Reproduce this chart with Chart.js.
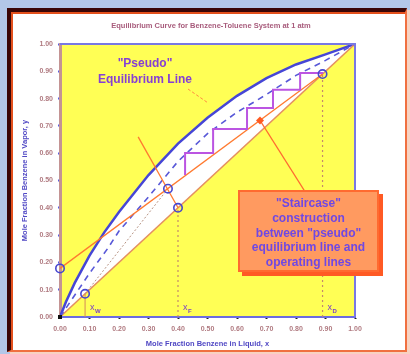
<!DOCTYPE html>
<html>
<head>
<meta charset="utf-8">
<script src="https://cdn.jsdelivr.net/npm/chart.js@4.4.1/dist/chart.umd.min.js"></script>
<style>
  html, body { margin: 0; padding: 0; }
  body { width: 410px; height: 354px; background: #b3c7e8; position: relative; overflow: hidden;
         font-family: "Liberation Sans", Arial, sans-serif; }
  .panel { position: absolute; left: 7px; top: 8px; width: 400px; height: 344px; box-sizing: border-box;
           background: #ffffff; border-left: 4px solid #3a0606; border-top: 4px solid #3a0606;
           border-right: 2px solid #f07040; border-bottom: 2px solid #f07040;
           box-shadow: inset 2px 2px 0 #e4501c, 3px 2px 0 #f8d2c2; }
  #chart { position: absolute; left: 0; top: 0; }
  .pseudo-label { position: absolute; left: 85px; top: 55px; width: 120px; text-align: center;
                  font: bold 12px "Liberation Sans", Arial, sans-serif; line-height: 16px; color: #8640d4; }
  .callout { position: absolute; left: 238px; top: 190px; width: 141px; height: 82px; box-sizing: border-box;
             background: #ff9a60; border: 2px solid #ff6a30; box-shadow: 4px 4px 0 #ff5a24;
             text-align: center; font: bold 12px "Liberation Sans", Arial, sans-serif; line-height: 14.8px;
             color: #6f48e4; padding-top: 4px; }
</style>
</head>
<body>
<div class="panel"></div>
<canvas id="chart" width="410" height="354"></canvas>
<div class="pseudo-label">"Pseudo"<br>Equilibrium Line</div>
<div class="callout">"Staircase"<br>construction<br>between "pseudo"<br>equilibrium line and<br>operating lines</div>
<script>
// Benzene-toluene equilibrium curve (liquid x, vapour y)
const eqX = [0, 0.02, 0.05, 0.10, 0.15, 0.20, 0.30, 0.40, 0.50, 0.60, 0.70, 0.80, 0.90, 1.00];
const eqY = [0, 0.055, 0.125, 0.225, 0.310, 0.385, 0.520, 0.635, 0.730, 0.810, 0.875, 0.925, 0.962, 1.00];

// "Pseudo" equilibrium line (dashed)
const pseudoX = [0, 0.10, 0.163, 0.20, 0.30, 0.40, 0.50, 0.60, 0.70, 0.80, 0.90, 1.00];
const pseudoY = [0, 0.160, 0.253, 0.315, 0.440, 0.570, 0.672, 0.750, 0.815, 0.885, 0.940, 1.00];

// Compositions: bottoms, feed, distillate
const xW = 0.085, xF = 0.40, xD = 0.89;

// 45-degree line
const diagX = [0, 1];
const diagY = [0, 1];

// Operating lines and q-line
const rectX = [0, 0.89];
const rectY = [0.178, 0.89];
const stripX = [0.085, 0.366];
const stripY = [0.085, 0.47];
const qX = [0.40, 0.265];
const qY = [0.40, 0.66];

// Staircase between pseudo-equilibrium and rectifying line
const stairX = [0.892, 0.814, 0.814, 0.722, 0.722, 0.634, 0.634, 0.519, 0.519, 0.424, 0.424];
const stairY = [0.894, 0.894, 0.832, 0.832, 0.766, 0.766, 0.689, 0.689, 0.601, 0.601, 0.520];

// Marked points: y-intercept, (xW,xW), (xF,xF), line intersection, (xD,xD)
const keyX = [0, 0.085, 0.40, 0.366, 0.89];
const keyY = [0.178, 0.085, 0.40, 0.47, 0.89];

// Annotation leader lines
const pseudoPtrX = [0.434, 0.502];
const pseudoPtrY = [0.835, 0.784];
const stairPtrX = [0.678, 0.83];
const stairPtrY = [0.72, 0.46];

// Axis ticks
const tickValues = [0, 0.1, 0.2, 0.3, 0.4, 0.5, 0.6, 0.7, 0.8, 0.9, 1.0];

const pts = (xs, ys) => xs.map((x, i) => ({ x: x, y: ys[i] }));
const FONT = '"Liberation Sans", Arial, sans-serif';

const line = (data, color, width, dash, extra) => Object.assign({
  type: 'line', data: data, borderColor: color, borderWidth: width,
  borderDash: dash || [], pointRadius: 0, fill: false, tension: 0
}, extra || {});

const plotDecor = {
  id: 'plotDecor',
  beforeDraw(chart) {
    const { ctx, chartArea: a, scales } = chart;
    const sx = v => scales.x.getPixelForValue(v);
    const sy = v => scales.y.getPixelForValue(v);
    ctx.save();
    ctx.fillStyle = '#ffff55';
    ctx.fillRect(a.left, a.top, a.right - a.left, a.bottom - a.top);
    // white band between the equilibrium curve and the 45-degree line
    ctx.beginPath();
    eqX.forEach((x, i) => (i ? ctx.lineTo(sx(x), sy(eqY[i])) : ctx.moveTo(sx(x), sy(eqY[i]))));
    for (let i = diagX.length - 1; i >= 0; i--) ctx.lineTo(sx(diagX[i]), sy(diagY[i]));
    ctx.closePath();
    ctx.fillStyle = '#ffffff';
    ctx.fill();
    ctx.restore();
  },
  afterDraw(chart) {
    const { ctx, chartArea: a, scales } = chart;
    ctx.save();
    // top and right frame of the plot
    ctx.strokeStyle = '#7878e4';
    ctx.lineWidth = 2;
    ctx.beginPath();
    ctx.moveTo(a.left, a.top);
    ctx.lineTo(a.right, a.top);
    ctx.lineTo(a.right, a.bottom);
    ctx.stroke();
    // chart title
    ctx.fillStyle = '#a85c7c';
    ctx.font = 'bold 7.5px ' + FONT;
    ctx.textAlign = 'center';
    ctx.textBaseline = 'middle';
    ctx.fillText('Equilibrium Curve for Benzene-Toluene System at 1 atm', 211, 26);
    // composition labels along the x axis
    const labels = [[xW, 'W'], [xF, 'F'], [xD, 'D']];
    ctx.fillStyle = '#7a40c8';
    ctx.textAlign = 'left';
    labels.forEach(([v, sub]) => {
      const px = scales.x.getPixelForValue(v) + 5;
      const py = a.bottom - 9;
      ctx.font = '9px ' + FONT;
      ctx.fillText('x', px, py);
      ctx.font = 'bold 6px ' + FONT;
      ctx.fillText(sub, px + 5, py + 3);
    });
    // origin marker
    ctx.fillStyle = '#111';
    ctx.fillRect(scales.x.getPixelForValue(0) - 2, scales.y.getPixelForValue(0) - 2, 4, 4);
    ctx.restore();
  }
};

new Chart(document.getElementById('chart'), {
  type: 'line',
  data: {
    datasets: [
      line(pts(eqX, eqY), '#4646d6', 2.5, null, { order: 10 }),
      line(pts(diagX, diagY), '#e49060', 1.5, null, { order: 9 }),
      line(pts(stripX, stripY), '#b89484', 1, [2, 2], { order: 8 }),
      line(pts(pseudoX, pseudoY), '#5858d8', 1.6, [6, 5], { order: 7 }),
      line(pts(rectX, rectY), '#ff7a30', 1.3, null, { order: 6 }),
      line(pts(qX, qY), '#ff7a30', 1.3, null, { order: 6 }),
      line(pts([xW, xW], [0, xW]), '#d48a5a', 1, null, { order: 6 }),
      line(pts([xF, xF], [0, xF]), '#c48a6a', 1.2, [2, 3], { order: 6 }),
      line(pts([xD, xD], [0, xD]), '#c48a6a', 1.2, [2, 3], { order: 6 }),
      line(pts(pseudoPtrX, pseudoPtrY), '#ff8a40', 1, [3, 2], { order: 5 }),
      line(pts(stairPtrX, stairPtrY), '#ff6a30', 1.2, null, { order: 5 }),
      line(pts(stairX, stairY), '#bb55e2', 2, null, { order: 4 }),
      { type: 'line', showLine: false, data: pts(keyX, keyY), pointRadius: 4.2, pointBorderWidth: 1.6,
        pointBorderColor: '#4646d0', pointBackgroundColor: 'rgba(0,0,0,0)', clip: false, order: 1 },
      { type: 'line', showLine: false, data: pts([stairPtrX[0]], [stairPtrY[0]]), pointStyle: 'rectRot',
        pointRadius: 4, pointBorderWidth: 0, pointBackgroundColor: '#ff5a20', order: 1 }
    ]
  },
  options: {
    responsive: false,
    animation: false,
    devicePixelRatio: 1,
    layout: { padding: { left: 0, right: 55, top: 44, bottom: 0 } },
    plugins: {
      legend: { display: false },
      tooltip: { enabled: false }
    },
    scales: {
      x: {
        type: 'linear', min: 0, max: 1,
        afterFit: s => { s.height = 37; },
        afterBuildTicks: s => { s.ticks = tickValues.map(v => ({ value: v })); },
        border: { color: '#6c6ce0', width: 2 },
        grid: { drawOnChartArea: false, drawTicks: true, tickLength: 2, tickWidth: 2, color: '#222' },
        ticks: { padding: 6, color: '#b07a80', font: { family: FONT, size: 7, weight: 'bold' },
                 maxRotation: 0, callback: v => Number(v).toFixed(2) },
        title: { display: true, text: 'Mole Fraction Benzene in Liquid, x', color: '#5048c4',
                 font: { family: FONT, size: 7.5, weight: 'bold' }, padding: { top: 0, bottom: 6 } }
      },
      y: {
        type: 'linear', min: 0, max: 1,
        afterFit: s => { s.width = 60; },
        afterBuildTicks: s => { s.ticks = tickValues.map(v => ({ value: v })); },
        border: { color: '#c49494', width: 3 },
        grid: { drawOnChartArea: false, drawTicks: true, tickLength: 2, tickWidth: 2, color: '#5a5ae0' },
        ticks: { padding: 5, color: '#b07a80', font: { family: FONT, size: 7, weight: 'bold' },
                 callback: v => Number(v).toFixed(2) },
        title: { display: true, text: 'Mole Fraction Benzene in Vapor, y', color: '#5048c4',
                 font: { family: FONT, size: 7.5, weight: 'bold' }, padding: { top: 20, bottom: 0 } }
      }
    }
  },
  plugins: [plotDecor]
});
</script>
</body>
</html>
